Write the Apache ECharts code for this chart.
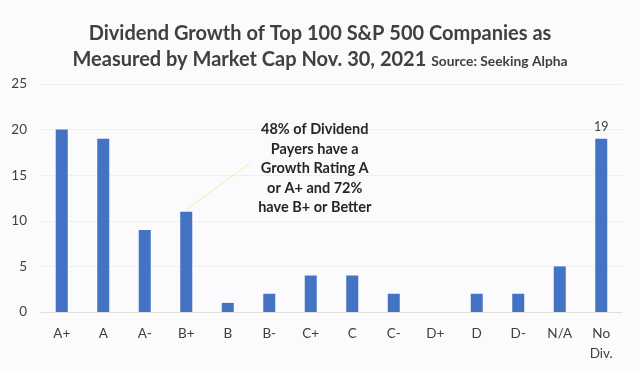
<!DOCTYPE html>
<html><head><meta charset="utf-8">
<script src="https://cdn.jsdelivr.net/npm/echarts@6/dist/echarts.min.js"></script>
<style>html,body{margin:0;padding:0;background:#fbfbfe;}#c{width:640px;height:372px;}</style>
</head><body><div id="c"></div>
<script>
const categories = ['A+','A','A-','B+','B','B-','C+','C','C-','D+','D','D-','N/A','No\nDiv.'];
const values = [20,19,9,11,1,2,4,4,2,0,2,2,5,19];
const yTicks = [0,5,10,15,20,25];
const annotation = '48% of Dividend\nPayers have a\nGrowth Rating A\nor A+ and 72%\nhave B+ or Better';

const chart = echarts.init(document.getElementById('c'), null, {renderer:'canvas'});
const font = 'Lato, "Open Sans", sans-serif';
chart.setOption({
  backgroundColor:'#fbfbfe',
  animation:false,
  title:{
    left:'center', top:16,
    text:'{a|Dividend Growth of Top 100 S&P 500 Companies as}\n{a|Measured by Market Cap Nov. 30, 2021} {b|Source: Seeking Alpha}',
    textStyle:{rich:{
      a:{fontFamily:font,fontSize:20,fontWeight:'bold',color:'#404040',lineHeight:26},
      b:{fontFamily:font,fontSize:13.8,fontWeight:'bold',color:'#404040',lineHeight:26,padding:[3,0,0,0]}
    }}
  },
  grid:{left:41,right:18,top:84,bottom:60},
  xAxis:{type:'category',data:categories,
    axisLine:{show:true,lineStyle:{color:'#e0e0d0'}},axisTick:{show:false},
    axisLabel:{color:'#404040',fontFamily:font,fontSize:13.5,margin:12,lineHeight:20,interval:0}},
  yAxis:{type:'value',min:yTicks[0],max:yTicks[yTicks.length-1],interval:5,
    axisLine:{show:false},axisTick:{show:false},
    splitLine:{lineStyle:{color:'#e8e8b8',type:'dotted'}},
    axisLabel:{color:'#404040',fontFamily:font,fontSize:13.5,margin:14}},
  series:[{type:'bar',data:values.map((v,i)=>({value:v,label:{show:i===values.length-1,position:'top',distance:5,color:'#404040',fontFamily:font,fontSize:12.5}})),
    barWidth:12,itemStyle:{color:'#4472C4'}}]
});
const barTop = chart.convertToPixel({seriesIndex:0},[3,values[3]]);
const txtX = chart.convertToPixel({xAxisIndex:0},'C+') + 4;
chart.setOption({graphic:[
  {type:'text',x:txtX,y:120,style:{text:annotation,fontFamily:font,fontSize:14.5,fontWeight:'bold',fill:'#262626',lineHeight:19.5,align:'center',verticalAlign:'top'}},
  {type:'polyline',shape:{points:[[barTop[0]-1,barTop[1]-1],[barTop[0]+60,barTop[1]-46],[barTop[0]+64,barTop[1]-46]]},style:{stroke:'#f0f0a0',lineWidth:1,fill:null}}
]});
</script></body></html>
